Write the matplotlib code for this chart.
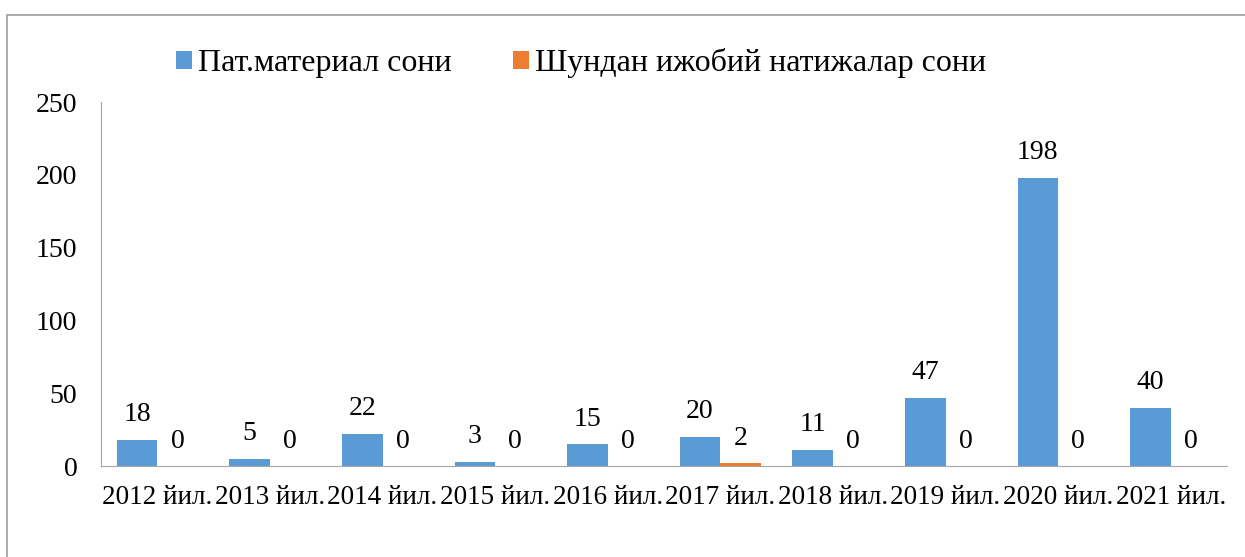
import matplotlib.pyplot as plt
import numpy as np
from matplotlib.patches import Rectangle

plt.rcParams['font.family'] = ['Liberation Serif', 'DejaVu Serif']

# data
years = ['2012 йил.', '2013 йил.', '2014 йил.', '2015 йил.', '2016 йил.',
         '2017 йил.', '2018 йил.', '2019 йил.', '2020 йил.', '2021 йил.']
materials = [18, 5, 22, 3, 15, 20, 11, 47, 198, 40]
positive = [0, 0, 0, 0, 0, 2, 0, 0, 0, 0]

blue = '#5b9bd5'
orange = '#ed7d31'

fig = plt.figure(figsize=(12.45, 5.57), dpi=100)
ax = fig.add_axes([101 / 1245, 1 - 466 / 557, 1126 / 1245, 364 / 557])

x = np.arange(len(years))
w = 0.36
b1 = ax.bar(x - w / 2, materials, w, color=blue, label='Пат.материал сони')
b2 = ax.bar(x + w / 2, positive, w, color=orange, label='Шундан ижобий натижалар сони')

ax.bar_label(b1, padding=9, fontsize=20)
ax.bar_label(b2, padding=9, fontsize=20)

ax.set_xlim(-0.5, len(years) - 0.5)
ax.set_ylim(0, 250)
ax.set_yticks(range(0, 251, 50))
ax.set_xticks(x)
ax.set_xticklabels(years, fontsize=19.5)
ax.tick_params(axis='y', labelsize=20, length=0, pad=17)
ax.tick_params(axis='x', length=0, pad=14)

for s in ['top', 'right']:
    ax.spines[s].set_visible(False)
ax.spines['left'].set_color('#a6a6a6')
ax.spines['bottom'].set_color('#a6a6a6')

fig.legend(handles=[b1, b2], loc='center left',
           bbox_to_anchor=(160 / 1245, 1 - 63 / 557), ncol=2, frameon=False,
           fontsize=23, borderpad=0, handlelength=0.5, handleheight=0.5,
           handletextpad=0.2, columnspacing=1.9)

# outer border of the chart area
fig.patches.append(Rectangle((7 / 1245, -0.01), 1.0, 1 - 15 / 557 + 0.01,
                             transform=fig.transFigure, fill=False,
                             edgecolor='#a6a6a6', linewidth=1.3))

fig.savefig('out.png', dpi=100)
